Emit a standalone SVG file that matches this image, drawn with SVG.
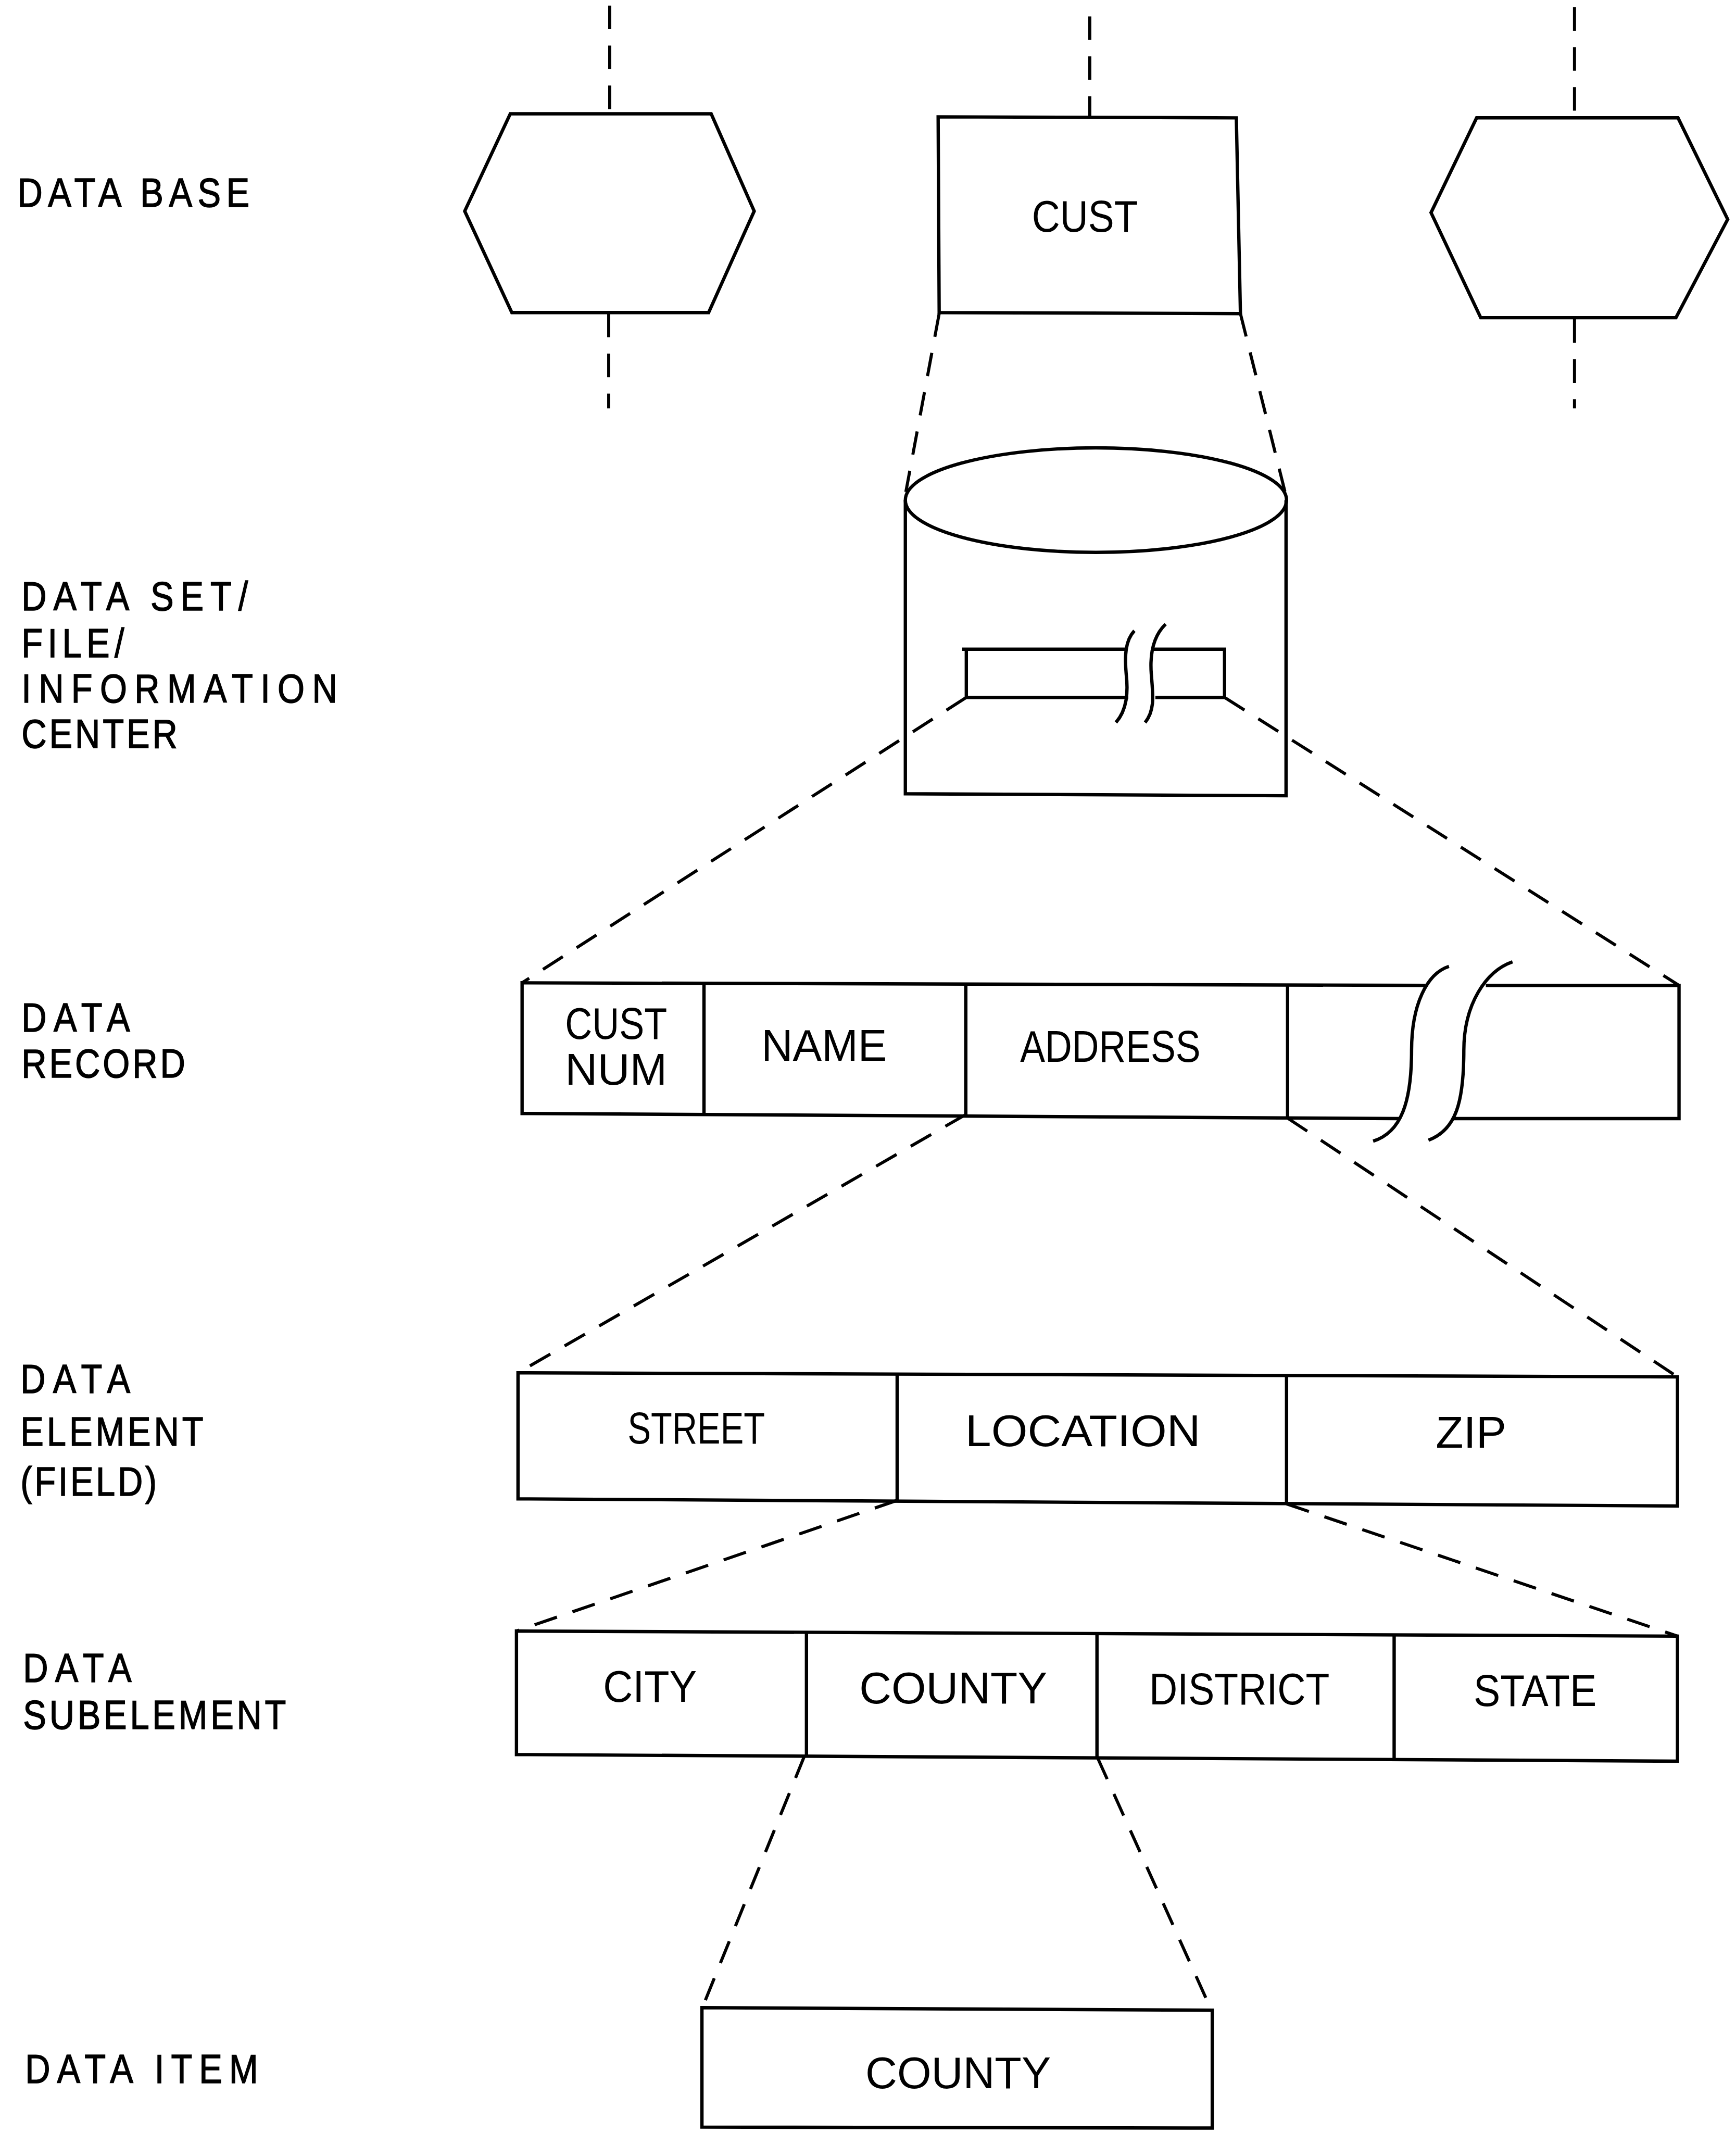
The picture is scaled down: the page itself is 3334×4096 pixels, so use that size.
<svg xmlns="http://www.w3.org/2000/svg" width="3334" height="4096" viewBox="0 0 3334 4096">
  <style>
    .ln { fill: none; stroke: #000; stroke-width: 6.5; stroke-linejoin: miter; stroke-linecap: butt; }
    .ds { fill: none; stroke: #000; stroke-width: 6; stroke-dasharray: 46 32; }
    .lbl { font-family: "Liberation Sans", Arial, sans-serif; font-size: 80px; fill: #000; stroke: #000; stroke-width: 1.5; }
    .txt { font-family: "Liberation Sans", Arial, sans-serif; font-size: 86px; fill: #000; }
  </style>
  <rect width="3334" height="4096" fill="#fff"/>
  <g transform="scale(0.984)">
    <!-- level labels: slightly narrowed glyphs, widely spaced -->
    <g id="labels">
      <text class="lbl" transform="translate(34 403) scale(0.85 1)" textLength="533" lengthAdjust="spacing">DATA BASE</text>
      <text class="lbl" transform="translate(42 1191) scale(0.85 1)" textLength="520" lengthAdjust="spacing">DATA SET/</text>
      <text class="lbl" transform="translate(42 1283) scale(0.85 1)" textLength="236" lengthAdjust="spacing">FILE/</text>
      <text class="lbl" transform="translate(42 1371) scale(0.85 1)" textLength="725" lengthAdjust="spacing">INFORMATION</text>
      <text class="lbl" transform="translate(42 1459) scale(0.85 1)" textLength="358" lengthAdjust="spacing">CENTER</text>
      <text class="lbl" transform="translate(42 2013) scale(0.85 1)" textLength="249" lengthAdjust="spacing">DATA</text>
      <text class="lbl" transform="translate(42 2103) scale(0.85 1)" textLength="376" lengthAdjust="spacing">RECORD</text>
      <text class="lbl" transform="translate(40 2718) scale(0.85 1)" textLength="252" lengthAdjust="spacing">DATA</text>
      <text class="lbl" transform="translate(40 2821) scale(0.85 1)" textLength="420" lengthAdjust="spacing">ELEMENT</text>
      <text class="lbl" transform="translate(40 2919) scale(0.85 1)" textLength="313" lengthAdjust="spacing">(FIELD)</text>
      <text class="lbl" transform="translate(45 3283) scale(0.85 1)" textLength="249" lengthAdjust="spacing">DATA</text>
      <text class="lbl" transform="translate(45 3374) scale(0.85 1)" textLength="604" lengthAdjust="spacing">SUBELEMENT</text>
      <text class="lbl" transform="translate(49 4065) scale(0.85 1)" font-size="84" textLength="535" lengthAdjust="spacing">DATA ITEM</text>
    </g>

    <!-- data base level -->
    <g id="db-left">
      <polygon class="ln" points="996,222 1388,222 1472,412 1383,610 999,610 907,412"/>
    </g>
    <g id="db-cust">
      <polygon class="ln" points="1831,228 2413,230 2421,612 1833,610"/>
      <text class="txt" x="2014" y="452" textLength="207" lengthAdjust="spacingAndGlyphs">CUST</text>
    </g>
    <g id="db-right">
      <polygon class="ln" points="2882,230 3275,230 3372,428 3271,620 2890,620 2793,415"/>
    </g>

    <!-- data set / file: cylinder with a broken record strip -->
    <g id="dataset">
      <path class="ln" d="M1767,976 L1767,1549 L2510,1553 L2510,976"/>
      <ellipse class="ln" cx="2139" cy="976" rx="372" ry="102"/>
      <path class="ln" d="M2197,1267 L1878,1267 M1886,1267 L1886,1361 L2202,1361"/>
      <path class="ln" d="M2250,1267 L2390,1267 L2390,1361 L2255,1361"/>
      <path class="ln" d="M2214,1231 C2196,1250 2195,1280 2198,1315 C2202,1350 2200,1385 2178,1410"/>
      <path class="ln" d="M2275,1218 C2252,1240 2244,1275 2247,1315 C2250,1355 2255,1385 2235,1410"/>
    </g>

    <!-- data record -->
    <g id="record">
      <path class="ln" d="M2782,1923 L1019,1918 L1019,2173 L2730,2183"/>
      <path class="ln" d="M2900,1923 L3277,1923 L3277,2183 L2835,2183"/>
      <line class="ln" x1="1374" y1="1918" x2="1374" y2="2175"/>
      <line class="ln" x1="1885" y1="1920" x2="1885" y2="2177"/>
      <line class="ln" x1="2513" y1="1921" x2="2513" y2="2182"/>
      <path class="ln" d="M2828,1886 C2785,1900 2755,1960 2755,2050 C2755,2150 2735,2210 2680,2227"/>
      <path class="ln" d="M2952,1877 C2900,1895 2857,1960 2857,2050 C2857,2150 2842,2205 2788,2225"/>
      <text class="txt" x="1103" y="2027" font-size="82" textLength="199" lengthAdjust="spacingAndGlyphs">CUST</text>
      <text class="txt" x="1103" y="2117" font-size="82" textLength="199" lengthAdjust="spacingAndGlyphs">NUM</text>
      <text class="txt" x="1486" y="2070" font-size="82" textLength="245" lengthAdjust="spacingAndGlyphs">NAME</text>
      <text class="txt" x="1991" y="2072" font-size="82" textLength="352" lengthAdjust="spacingAndGlyphs">ADDRESS</text>
    </g>

    <!-- data element (field) -->
    <g id="element">
      <polygon class="ln" points="1011,2679 3274,2687 3274,2939 1011,2925"/>
      <line class="ln" x1="1751" y1="2682" x2="1751" y2="2928"/>
      <line class="ln" x1="2511" y1="2684" x2="2511" y2="2935"/>
      <text class="txt" x="1225" y="2817" textLength="268" lengthAdjust="spacingAndGlyphs">STREET</text>
      <text class="txt" x="1884" y="2822" textLength="459" lengthAdjust="spacingAndGlyphs">LOCATION</text>
      <text class="txt" x="2802" y="2825" textLength="138" lengthAdjust="spacingAndGlyphs">ZIP</text>
    </g>

    <!-- data subelement -->
    <g id="subelement">
      <polygon class="ln" points="1008,3183 3274,3193 3274,3437 1008,3424"/>
      <line class="ln" x1="1574" y1="3186" x2="1574" y2="3427"/>
      <line class="ln" x1="2141" y1="3188" x2="2141" y2="3430"/>
      <line class="ln" x1="2721" y1="3191" x2="2721" y2="3433"/>
      <text class="txt" x="1177" y="3321" textLength="183" lengthAdjust="spacingAndGlyphs">CITY</text>
      <text class="txt" x="1677" y="3324" textLength="367" lengthAdjust="spacingAndGlyphs">COUNTY</text>
      <text class="txt" x="2243" y="3326" textLength="352" lengthAdjust="spacingAndGlyphs">DISTRICT</text>
      <text class="txt" x="2876" y="3329" textLength="240" lengthAdjust="spacingAndGlyphs">STATE</text>
    </g>

    <!-- data item -->
    <g id="item">
      <polygon class="ln" points="1370,3918 2366,3923 2366,4153 1370,4151"/>
      <text class="txt" x="1689" y="4075" textLength="362" lengthAdjust="spacingAndGlyphs">COUNTY</text>
    </g>

    <!-- connectors: dashed links and zoom-out projection lines -->
    <g id="connectors">
      <line class="ds" x1="1190" y1="11" x2="1190" y2="222"/>
      <line class="ds" x1="1188" y1="612" x2="1188" y2="797"/>
      <line class="ds" x1="2127" y1="32" x2="2127" y2="228"/>
      <line class="ds" x1="3073" y1="14" x2="3073" y2="230"/>
      <line class="ds" x1="3073" y1="623" x2="3073" y2="797"/>
      <line class="ds" x1="1833" y1="612" x2="1768" y2="960"/>
      <line class="ds" x1="2421" y1="612" x2="2508" y2="960"/>
      <line class="ds" x1="1886" y1="1361" x2="1019" y2="1918"/>
      <line class="ds" x1="2390" y1="1361" x2="3277" y2="1923"/>
      <line class="ds" x1="1885" y1="2175" x2="1011" y2="2679"/>
      <line class="ds" x1="2513" y1="2182" x2="3274" y2="2687"/>
      <line class="ds" x1="1751" y1="2928" x2="1008" y2="3183"/>
      <line class="ds" x1="2511" y1="2935" x2="3274" y2="3193"/>
      <line class="ds" x1="1570" y1="3427" x2="1372" y2="3915"/>
      <line class="ds" x1="2142" y1="3430" x2="2363" y2="3920"/>
    </g>
  </g>
</svg>
